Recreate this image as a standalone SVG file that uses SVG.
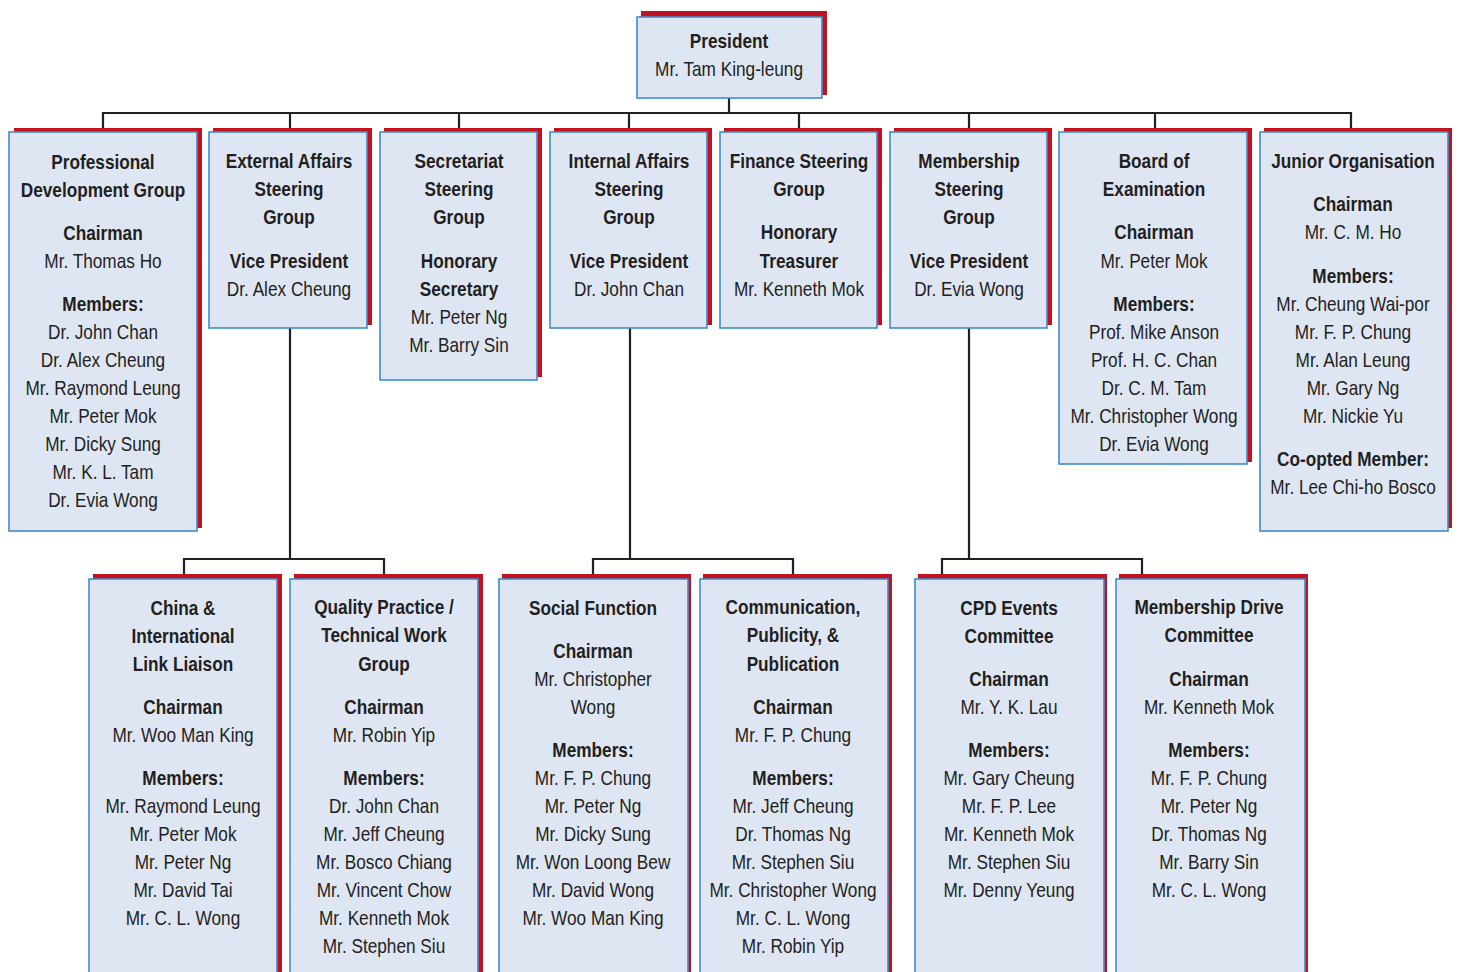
<svg xmlns="http://www.w3.org/2000/svg" width="1458" height="972" viewBox="0 0 1458 972">
<style>
.sh{fill:#c4111f}
.bx{fill:#dfe6f3;stroke:#3f8ccd;stroke-width:1.6}
text{font-family:"Liberation Sans",Arial,sans-serif;font-size:21px;fill:#231f20;text-anchor:middle}
.b{font-weight:bold}
.cn{fill:none;stroke:#231f20;stroke-width:2.2}
</style>
<rect width="1458" height="972" fill="#fff"/>
<g id="connectors" class="cn">
<path d="M729 98V113M103 128V113H1351V128M290 113V128M459 113V128M629 113V128M799 113V128M969 113V128M1155 113V128"/>
<path d="M290 328V559M184 574V559H384V574"/>
<path d="M630 328V559M593 574V559H793V574"/>
<path d="M969 328V559M942 574V559H1142V574"/>
</g>
<g id="president">
<rect class="sh" x="641" y="11" width="186" height="84"/>
<rect class="bx" x="637" y="17" width="185" height="81"/>
<text transform="translate(729 0) scale(0.82 1)" y="48"><tspan x="0" class="b">President</tspan><tspan x="0" y="76">Mr. Tam King-leung</tspan></text>
</g>
<g id="professional-development">
<rect class="sh" x="14" y="128" width="188" height="400"/>
<rect class="bx" x="9" y="132" width="188" height="399"/>
<text transform="translate(103 0) scale(0.82 1)" y="169"><tspan x="0" class="b">Professional</tspan><tspan x="0" y="197" class="b">Development Group</tspan><tspan x="0" y="240" class="b">Chairman</tspan><tspan x="0" y="268">Mr. Thomas Ho</tspan><tspan x="0" y="311" class="b">Members:</tspan><tspan x="0" y="339">Dr. John Chan</tspan><tspan x="0" y="367">Dr. Alex Cheung</tspan><tspan x="0" y="395">Mr. Raymond Leung</tspan><tspan x="0" y="423">Mr. Peter Mok</tspan><tspan x="0" y="451">Mr. Dicky Sung</tspan><tspan x="0" y="479">Mr. K. L. Tam</tspan><tspan x="0" y="507">Dr. Evia Wong</tspan></text>
</g>
<g id="external-affairs">
<rect class="sh" x="213" y="128" width="159" height="197"/>
<rect class="bx" x="209" y="132" width="158" height="196"/>
<text transform="translate(289 0) scale(0.82 1)" y="168"><tspan x="0" class="b">External Affairs</tspan><tspan x="0" y="196" class="b">Steering</tspan><tspan x="0" y="224" class="b">Group</tspan><tspan x="0" y="268" class="b">Vice President</tspan><tspan x="0" y="296">Dr. Alex Cheung</tspan></text>
</g>
<g id="secretariat">
<rect class="sh" x="384" y="128" width="158" height="249"/>
<rect class="bx" x="380" y="132" width="157" height="248"/>
<text transform="translate(459 0) scale(0.82 1)" y="168"><tspan x="0" class="b">Secretariat</tspan><tspan x="0" y="196" class="b">Steering</tspan><tspan x="0" y="224" class="b">Group</tspan><tspan x="0" y="268" class="b">Honorary</tspan><tspan x="0" y="296" class="b">Secretary</tspan><tspan x="0" y="324">Mr. Peter Ng</tspan><tspan x="0" y="352">Mr. Barry Sin</tspan></text>
</g>
<g id="internal-affairs">
<rect class="sh" x="554" y="128" width="158" height="197"/>
<rect class="bx" x="550" y="132" width="157" height="196"/>
<text transform="translate(629 0) scale(0.82 1)" y="168"><tspan x="0" class="b">Internal Affairs</tspan><tspan x="0" y="196" class="b">Steering</tspan><tspan x="0" y="224" class="b">Group</tspan><tspan x="0" y="268" class="b">Vice President</tspan><tspan x="0" y="296">Dr. John Chan</tspan></text>
</g>
<g id="finance-steering">
<rect class="sh" x="724" y="128" width="158" height="197"/>
<rect class="bx" x="720" y="132" width="157" height="196"/>
<text transform="translate(799 0) scale(0.82 1)" y="168"><tspan x="0" class="b">Finance Steering</tspan><tspan x="0" y="196" class="b">Group</tspan><tspan x="0" y="239" class="b">Honorary</tspan><tspan x="0" y="268" class="b">Treasurer</tspan><tspan x="0" y="296">Mr. Kenneth Mok</tspan></text>
</g>
<g id="membership-steering">
<rect class="sh" x="894" y="128" width="158" height="197"/>
<rect class="bx" x="890" y="132" width="157" height="196"/>
<text transform="translate(969 0) scale(0.82 1)" y="168"><tspan x="0" class="b">Membership</tspan><tspan x="0" y="196" class="b">Steering</tspan><tspan x="0" y="224" class="b">Group</tspan><tspan x="0" y="268" class="b">Vice President</tspan><tspan x="0" y="296">Dr. Evia Wong</tspan></text>
</g>
<g id="board-of-examination">
<rect class="sh" x="1064" y="128" width="188" height="334"/>
<rect class="bx" x="1059" y="132" width="188" height="332"/>
<text transform="translate(1154 0) scale(0.82 1)" y="168"><tspan x="0" class="b">Board of</tspan><tspan x="0" y="196" class="b">Examination</tspan><tspan x="0" y="239" class="b">Chairman</tspan><tspan x="0" y="268">Mr. Peter Mok</tspan><tspan x="0" y="311" class="b">Members:</tspan><tspan x="0" y="339">Prof. Mike Anson</tspan><tspan x="0" y="367">Prof. H. C. Chan</tspan><tspan x="0" y="395">Dr. C. M. Tam</tspan><tspan x="0" y="423">Mr. Christopher Wong</tspan><tspan x="0" y="451">Dr. Evia Wong</tspan></text>
</g>
<g id="junior-organisation">
<rect class="sh" x="1264" y="128" width="188" height="400"/>
<rect class="bx" x="1260" y="132" width="188" height="399"/>
<text transform="translate(1353 0) scale(0.82 1)" y="168"><tspan x="0" class="b">Junior Organisation</tspan><tspan x="0" y="211" class="b">Chairman</tspan><tspan x="0" y="239">Mr. C. M. Ho</tspan><tspan x="0" y="283" class="b">Members:</tspan><tspan x="0" y="311">Mr. Cheung Wai-por</tspan><tspan x="0" y="339">Mr. F. P. Chung</tspan><tspan x="0" y="367">Mr. Alan Leung</tspan><tspan x="0" y="395">Mr. Gary Ng</tspan><tspan x="0" y="423">Mr. Nickie Yu</tspan><tspan x="0" y="466" class="b">Co-opted Member:</tspan><tspan x="0" y="494">Mr. Lee Chi-ho Bosco</tspan></text>
</g>
<g id="china-international">
<rect class="sh" x="93" y="574" width="189" height="400"/>
<rect class="bx" x="89" y="579" width="188" height="400"/>
<text transform="translate(183 0) scale(0.82 1)" y="615"><tspan x="0" class="b">China &amp;</tspan><tspan x="0" y="643" class="b">International</tspan><tspan x="0" y="671" class="b">Link Liaison</tspan><tspan x="0" y="714" class="b">Chairman</tspan><tspan x="0" y="742">Mr. Woo Man King</tspan><tspan x="0" y="785" class="b">Members:</tspan><tspan x="0" y="813">Mr. Raymond Leung</tspan><tspan x="0" y="841">Mr. Peter Mok</tspan><tspan x="0" y="869">Mr. Peter Ng</tspan><tspan x="0" y="897">Mr. David Tai</tspan><tspan x="0" y="925">Mr. C. L. Wong</tspan></text>
</g>
<g id="quality-practice">
<rect class="sh" x="294" y="574" width="189" height="400"/>
<rect class="bx" x="290" y="579" width="188" height="400"/>
<text transform="translate(384 0) scale(0.82 1)" y="614"><tspan x="0" class="b">Quality Practice /</tspan><tspan x="0" y="642" class="b">Technical Work</tspan><tspan x="0" y="671" class="b">Group</tspan><tspan x="0" y="714" class="b">Chairman</tspan><tspan x="0" y="742">Mr. Robin Yip</tspan><tspan x="0" y="785" class="b">Members:</tspan><tspan x="0" y="813">Dr. John Chan</tspan><tspan x="0" y="841">Mr. Jeff Cheung</tspan><tspan x="0" y="869">Mr. Bosco Chiang</tspan><tspan x="0" y="897">Mr. Vincent Chow</tspan><tspan x="0" y="925">Mr. Kenneth Mok</tspan><tspan x="0" y="953">Mr. Stephen Siu</tspan></text>
</g>
<g id="social-function">
<rect class="sh" x="502" y="574" width="189" height="400"/>
<rect class="bx" x="499" y="579" width="189" height="400"/>
<text transform="translate(593 0) scale(0.82 1)" y="615"><tspan x="0" class="b">Social Function</tspan><tspan x="0" y="658" class="b">Chairman</tspan><tspan x="0" y="686">Mr. Christopher</tspan><tspan x="0" y="714">Wong</tspan><tspan x="0" y="757" class="b">Members:</tspan><tspan x="0" y="785">Mr. F. P. Chung</tspan><tspan x="0" y="813">Mr. Peter Ng</tspan><tspan x="0" y="841">Mr. Dicky Sung</tspan><tspan x="0" y="869">Mr. Won Loong Bew</tspan><tspan x="0" y="897">Mr. David Wong</tspan><tspan x="0" y="925">Mr. Woo Man King</tspan></text>
</g>
<g id="communication-publicity">
<rect class="sh" x="703" y="574" width="189" height="400"/>
<rect class="bx" x="700" y="579" width="188" height="400"/>
<text transform="translate(793 0) scale(0.82 1)" y="614"><tspan x="0" class="b">Communication,</tspan><tspan x="0" y="642" class="b">Publicity, &amp;</tspan><tspan x="0" y="671" class="b">Publication</tspan><tspan x="0" y="714" class="b">Chairman</tspan><tspan x="0" y="742">Mr. F. P. Chung</tspan><tspan x="0" y="785" class="b">Members:</tspan><tspan x="0" y="813">Mr. Jeff Cheung</tspan><tspan x="0" y="841">Dr. Thomas Ng</tspan><tspan x="0" y="869">Mr. Stephen Siu</tspan><tspan x="0" y="897">Mr. Christopher Wong</tspan><tspan x="0" y="925">Mr. C. L. Wong</tspan><tspan x="0" y="953">Mr. Robin Yip</tspan></text>
</g>
<g id="cpd-events">
<rect class="sh" x="918" y="574" width="189" height="400"/>
<rect class="bx" x="915" y="579" width="189" height="400"/>
<text transform="translate(1009 0) scale(0.82 1)" y="615"><tspan x="0" class="b">CPD Events</tspan><tspan x="0" y="643" class="b">Committee</tspan><tspan x="0" y="686" class="b">Chairman</tspan><tspan x="0" y="714">Mr. Y. K. Lau</tspan><tspan x="0" y="757" class="b">Members:</tspan><tspan x="0" y="785">Mr. Gary Cheung</tspan><tspan x="0" y="813">Mr. F. P. Lee</tspan><tspan x="0" y="841">Mr. Kenneth Mok</tspan><tspan x="0" y="869">Mr. Stephen Siu</tspan><tspan x="0" y="897">Mr. Denny Yeung</tspan></text>
</g>
<g id="membership-drive">
<rect class="sh" x="1119" y="574" width="189" height="400"/>
<rect class="bx" x="1116" y="579" width="189" height="400"/>
<text transform="translate(1209 0) scale(0.82 1)" y="614"><tspan x="0" class="b">Membership Drive</tspan><tspan x="0" y="642" class="b">Committee</tspan><tspan x="0" y="686" class="b">Chairman</tspan><tspan x="0" y="714">Mr. Kenneth Mok</tspan><tspan x="0" y="757" class="b">Members:</tspan><tspan x="0" y="785">Mr. F. P. Chung</tspan><tspan x="0" y="813">Mr. Peter Ng</tspan><tspan x="0" y="841">Dr. Thomas Ng</tspan><tspan x="0" y="869">Mr. Barry Sin</tspan><tspan x="0" y="897">Mr. C. L. Wong</tspan></text>
</g>
</svg>
